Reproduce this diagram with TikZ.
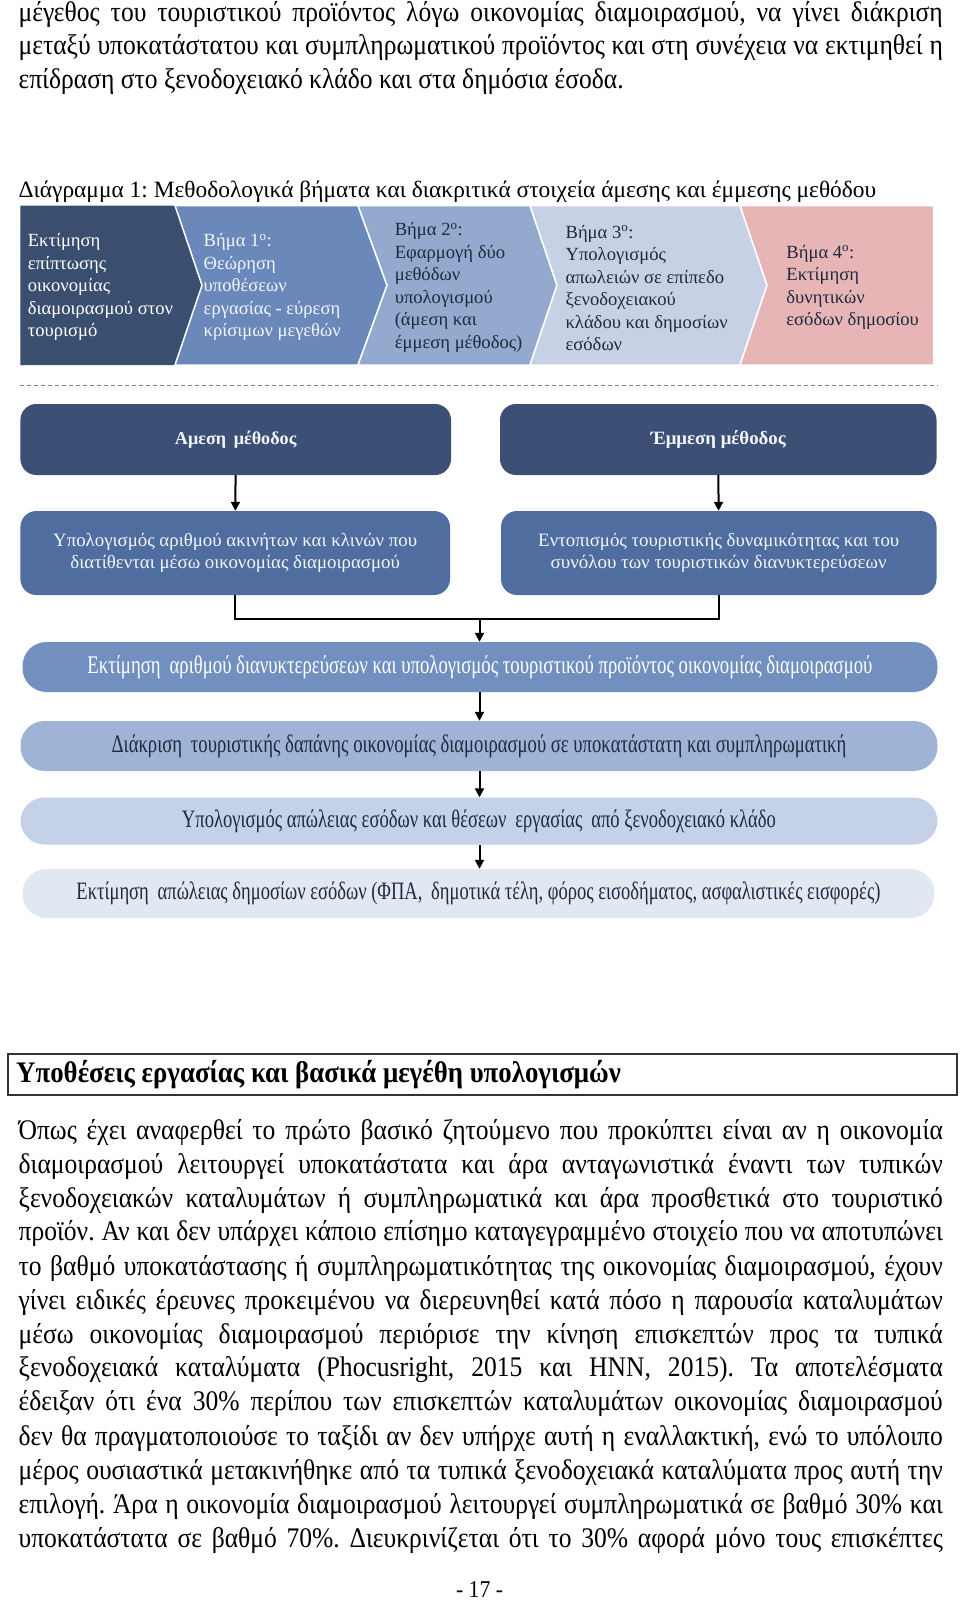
\documentclass[tikz,border=0pt]{standalone}
\usepackage{fontspec}
\usepackage{graphicx}
\setmainfont{Liberation Serif}
\newfontfamily\narrowf[FakeStretch=0.9]{Liberation Serif}
\newfontfamily\condf[FakeStretch=0.74]{Liberation Serif}
\usetikzlibrary{arrows.meta}
\definecolor{cnavy}{HTML}{3C5075}
\definecolor{crowb}{HTML}{4F6E9F}
\definecolor{crowc}{HTML}{7190C0}
\definecolor{crowd}{HTML}{9EB3D5}
\definecolor{crowe}{HTML}{C5D1E6}
\definecolor{crowf}{HTML}{E2E8F2}
\definecolor{chA}{HTML}{3A4E70}
\definecolor{chB}{HTML}{6A89BA}
\definecolor{chC}{HTML}{93A9CD}
\definecolor{chD}{HTML}{C6D1E5}
\definecolor{chE}{HTML}{E8B5B6}
\definecolor{txtlight}{HTML}{F2F5FA}
\definecolor{txtdark}{HTML}{1E2A40}
\frenchspacing
\newlength\jw
\newlength\jh
\newcommand\jline[2]{\setlength\jw{#1}\sbox0{#2}\setlength\jh{\ht0}%
  \ifdim\wd0>\jw\relax\resizebox{\jw}{\jh}{\usebox0}\else\makebox[\jw][s]{#2}\fi}
\newcommand\fitw[2]{\resizebox{#1}{!}{#2}}
\tikzset{
  bodyline/.style={anchor=west, inner sep=0pt, font=\frenchspacing\narrowf\fontsize{28.4}{28.4}\selectfont},
  chevtext/.style={anchor=west, inner sep=0pt, align=left, font=\fontsize{18.6}{22.5}\selectfont},
  chev/.style={draw=white, line width=1.5pt},
  stepbox/.style={rectangle, rounded corners=16pt, inner sep=0pt, align=center, font=\fontsize{17.5}{22.5}\selectfont},
  pill/.style={rectangle, rounded corners=24pt, inner sep=0pt, align=center, font=\condf\fontsize{17.5}{22.5}\selectfont},
  link/.style={line width=2pt, black},
  arrowlink/.style={line width=2pt, black, -{Triangle[length=9pt,width=9pt]}},
}
\begin{document}
\begin{tikzpicture}[x=1pt,y=-1pt]
\useasboundingbox[fill=white] (0,0) rectangle (960,1603);

% top paragraph
\node[bodyline] (p1) at (18.4,14.3) {\jline{924.3pt}{μέγεθος του τουριστικού προϊόντος λόγω οικονομίας διαμοιρασμού, να γίνει διάκριση}};
\node[bodyline] (p2) at (18.4,48) {\jline{924.3pt}{μεταξύ υποκατάστατου και συμπληρωματικού προϊόντος και στη συνέχεια να εκτιμηθεί η}};
\node[bodyline] (p3) at (18.4,81.8) {επίδραση στο ξενοδοχειακό κλάδο και στα δημόσια έσοδα.};

% caption
\node[anchor=west, inner sep=0pt, font=\fontsize{20}{20}\selectfont] (cap) at (18.4,192) {\fitw{857.6pt}{Διάγραμμα 1: Μεθοδολογικά βήματα και διακριτικά στοιχεία άμεσης και έμμεσης μεθόδου}};

% chevron band
\fill[chA] (20.4,205.5) -- (175,205.5) -- (202,285.25) -- (175,365) -- (20.4,365) -- cycle;
\draw[chev, fill=chB] (175,205.5) -- (358,205.5) -- (387,285.25) -- (358,365) -- (175,365) -- (202,285.25) -- cycle;
\draw[chev, fill=chC] (358,205.5) -- (530,205.5) -- (557,285.25) -- (530,365) -- (358,365) -- (387,285.25) -- cycle;
\draw[chev, fill=chD] (530,205.5) -- (740,205.5) -- (767,285.25) -- (740,365) -- (530,365) -- (557,285.25) -- cycle;
\draw[chev, fill=chE] (740,205.5) -- (933.5,205.5) -- (933.5,365) -- (740,365) -- (767,285.25) -- cycle;

\node[chevtext, text=white] (s1) at (27.6,287.3) {Εκτίμηση\\ επίπτωσης\\ οικονομίας\\ διαμοιρασμού στον\\ τουρισμό};
\node[chevtext, text=txtlight] (s2) at (203.5,287.3) {Βήμα 1\textsuperscript{ο}:\\ Θεώρηση\\ υποθέσεων\\ εργασίας - εύρεση\\ κρίσιμων μεγεθών};
\node[chevtext, text=txtdark] (s3) at (394.6,287.5) {Βήμα 2\textsuperscript{ο}:\\ Εφαρμογή δύο\\ μεθόδων\\ υπολογισμού\\ (άμεση και\\ έμμεση μέθοδος)};
\node[chevtext, text=txtdark] (s4) at (565.4,288) {Βήμα 3\textsuperscript{ο}:\\ Υπολογισμός\\ απωλειών σε επίπεδο\\ ξενοδοχειακού\\ κλάδου και δημοσίων\\ εσόδων};
\node[chevtext, text=txtdark] (s5) at (786.2,287.3) {Βήμα 4\textsuperscript{ο}:\\ Εκτίμηση\\ δυνητικών\\ εσόδων δημοσίου};

% dashed separator
\coordinate (dl) at (20.4,385);
\coordinate (dr) at (938,385);
\draw[gray, line width=0.8pt, dash pattern=on 4pt off 3pt] (dl) -- (dr);

% method boxes
\node[stepbox, fill=cnavy, text=txtlight, minimum width=430.6pt, minimum height=71pt] (a1) at (235.7,439.5) {\fitw{121.5pt}{\bfseries Αμεση\, μέθοδος}};
\node[stepbox, fill=cnavy, text=txtlight, minimum width=436.5pt, minimum height=71pt] (a2) at (718.25,439.5) {\fitw{135pt}{\bfseries Έμμεση μέθοδος}};

\node[stepbox, fill=crowb, text=txtlight, minimum width=429.6pt, minimum height=84pt] (b1) at (235.2,553) {\fitw{364pt}{Υπολογισμός αριθμού ακινήτων και κλινών που}\\ \fitw{329.5pt}{διατίθενται μέσω οικονομίας διαμοιρασμού}};
\node[stepbox, fill=crowb, text=txtlight, minimum width=435.5pt, minimum height=84pt] (b2) at (718.75,553) {\fitw{361pt}{Εντοπισμός τουριστικής δυναμικότητας και του}\\ \fitw{336pt}{συνόλου των τουριστικών διανυκτερεύσεων}};

\node[pill, fill=crowc, text=white, minimum width=915pt, minimum height=50pt] (r3) at (480,667) {\fitw{785pt}{Εκτίμηση\, αριθμού διανυκτερεύσεων και υπολογισμός τουριστικού προϊόντος οικονομίας διαμοιρασμού}};
\node[pill, fill=crowd, text=txtdark, minimum width=917pt, minimum height=50pt] (r4) at (479,746) {\fitw{734.5pt}{Διάκριση\, τουριστικής δαπάνης οικονομίας διαμοιρασμού σε υποκατάστατη και συμπληρωματική}};
\node[pill, fill=crowe, text=txtdark, minimum width=917pt, minimum height=47pt] (r5) at (479,821) {\fitw{594pt}{Υπολογισμός απώλειας εσόδων και θέσεων\, εργασίας\, από ξενοδοχειακό κλάδο}};
\node[pill, fill=crowf, text=txtdark, minimum width=912pt, minimum height=49pt] (r6) at (478.5,893.5) {\fitw{804pt}{Εκτίμηση\, απώλειας δημοσίων εσόδων (ΦΠΑ,\, δημοτικά τέλη, φόρος εισοδήματος, ασφαλιστικές εισφορές)}};

% connectors
\draw[arrowlink] (a1) -- (b1);
\draw[arrowlink] (a2) -- (b2);
\coordinate (merge) at (479.5,618.5);
\draw[link] (b1.south) |- (merge);
\draw[link] (b2.south) |- (merge);
\draw[arrowlink] (merge) -- (merge |- r3.north);
\draw[arrowlink] (r3.south -| merge) -- (r4.north -| merge);
\draw[arrowlink] (r4.south -| merge) -- (r5.north -| merge);
\draw[arrowlink] (r5.south -| merge) -- (r6.north -| merge);

% heading box
\node[draw=black!80, line width=1.5pt, rectangle, inner sep=0pt, minimum width=949pt, minimum height=41pt] (hbox) at (482.5,1074.5) {};
\node[anchor=west, inner sep=0pt, font=\narrowf\fontsize{25}{25}\selectfont] (htext) at (16,1074.5) {\fitw{604.6pt}{\bfseries Υποθέσεις εργασίας και βασικά μεγέθη υπολογισμών}};

% body
\node[bodyline] (b01) at (18.4,1132.8) {\jline{924.3pt}{Όπως έχει αναφερθεί το πρώτο βασικό ζητούμενο που προκύπτει είναι αν η οικονομία}};
\node[bodyline] (b02) at (18.4,1166.6) {\jline{924.3pt}{διαμοιρασμού λειτουργεί υποκατάστατα και άρα ανταγωνιστικά έναντι των τυπικών}};
\node[bodyline] (b03) at (18.4,1200.3) {\jline{924.3pt}{ξενοδοχειακών καταλυμάτων ή συμπληρωματικά και άρα προσθετικά στο τουριστικό}};
\node[bodyline] (b04) at (18.4,1234) {\jline{924.3pt}{προϊόν. Αν και δεν υπάρχει κάποιο επίσημο καταγεγραμμένο στοιχείο που να αποτυπώνει}};
\node[bodyline] (b05) at (18.4,1268.8) {\jline{924.3pt}{το βαθμό υποκατάστασης ή συμπληρωματικότητας της οικονομίας διαμοιρασμού, έχουν}};
\node[bodyline] (b06) at (18.4,1302.5) {\jline{924.3pt}{γίνει ειδικές έρευνες προκειμένου να διερευνηθεί κατά πόσο η παρουσία καταλυμάτων}};
\node[bodyline] (b07) at (18.4,1336.3) {\jline{924.3pt}{μέσω οικονομίας διαμοιρασμού περιόρισε την κίνηση επισκεπτών προς τα τυπικά}};
\node[bodyline] (b08) at (18.4,1370) {\jline{924.3pt}{ξενοδοχειακά καταλύματα (Phocusright, 2015 και HNN, 2015). Τα αποτελέσματα}};
\node[bodyline] (b09) at (18.4,1403.8) {\jline{924.3pt}{έδειξαν ότι ένα 30\% περίπου των επισκεπτών καταλυμάτων οικονομίας διαμοιρασμού}};
\node[bodyline] (b10) at (18.4,1438.5) {\jline{924.3pt}{δεν θα πραγματοποιούσε το ταξίδι αν δεν υπήρχε αυτή η εναλλακτική, ενώ το υπόλοιπο}};
\node[bodyline] (b11) at (18.4,1472.3) {\jline{924.3pt}{μέρος ουσιαστικά μετακινήθηκε από τα τυπικά ξενοδοχειακά καταλύματα προς αυτή την}};
\node[bodyline] (b12) at (18.4,1507) {\jline{924.3pt}{επιλογή. Άρα η οικονομία διαμοιρασμού λειτουργεί συμπληρωματικά σε βαθμό 30\% και}};
\node[bodyline] (b13) at (18.4,1540.8) {\jline{924.3pt}{υποκατάστατα σε βαθμό 70\%. Διευκρινίζεται ότι το 30\% αφορά μόνο τους επισκέπτες}};

\node[inner sep=0pt, font=\narrowf\fontsize{25}{25}\selectfont] (pg) at (479.5,1590) {\fitw{47pt}{- 17 -}};
\end{tikzpicture}
\end{document}
